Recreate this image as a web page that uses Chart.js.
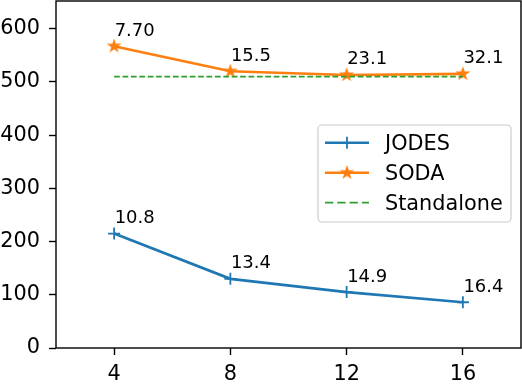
<!DOCTYPE html>
<html><head><meta charset="utf-8">
<script src="https://cdn.jsdelivr.net/npm/chart.js@4.4.1/dist/chart.umd.min.js"></script>
<style>html,body{margin:0;padding:0;background:#fff}canvas{display:block}</style>
</head><body>
<canvas id="c" width="522" height="384"></canvas>
<script>
const nodes = [4, 8, 12, 16];
const jodesValues = [215, 130, 105, 86];
const sodaValues = [567, 520, 513, 515];
const standaloneValues = [510, 510, 510, 510];
const jodesLabels = ['10.8', '13.4', '14.9', '16.4'];
const sodaLabels = ['7.70', '15.5', '23.1', '32.1'];
const seriesNames = ['JODES', 'SODA', 'Standalone'];
const xTicks = [4, 8, 12, 16];
const yTicks = [0, 100, 200, 300, 400, 500, 600];

const FONT = 'DejaVu Sans';
const BLUE = '#1f77b4', ORANGE = '#ff7f0e', GREEN = '#2ca02c';

function starCanvas(r, color) {
  const s = 18;
  const c = document.createElement('canvas');
  c.width = s; c.height = s;
  const g = c.getContext('2d');
  g.fillStyle = color; g.strokeStyle = color; g.lineWidth = 1.5; g.lineJoin = 'miter';
  g.beginPath();
  for (let i = 0; i < 10; i++) {
    const rr = i % 2 ? r * 0.382 : r;
    const a = -Math.PI / 2 + i * Math.PI / 5;
    const px = s / 2 + rr * Math.cos(a), py = s / 2 + rr * Math.sin(a);
    if (i === 0) g.moveTo(px, py); else g.lineTo(px, py);
  }
  g.closePath(); g.fill(); g.stroke();
  return c;
}
const star = starCanvas(5.4, ORANGE);

const pts = (vals) => nodes.map((x, i) => ({ x: x, y: vals[i] }));

const framePlugin = {
  id: 'frame',
  afterDatasetsDraw(chart) {
    const { ctx, chartArea: a } = chart;
    ctx.save();
    ctx.strokeStyle = '#000'; ctx.lineWidth = 1.4;
    ctx.strokeRect(a.left, a.top, a.right - a.left, a.bottom - a.top);
    ctx.restore();
  }
};

const annotPlugin = {
  id: 'annot',
  afterDatasetsDraw(chart) {
    const { ctx } = chart;
    ctx.save();
    ctx.font = '18px "' + FONT + '"';
    ctx.fillStyle = '#000';
    ctx.textAlign = 'left'; ctx.textBaseline = 'alphabetic';
    [[0, jodesLabels], [1, sodaLabels]].forEach(([di, labels]) => {
      const meta = chart.getDatasetMeta(di);
      meta.data.forEach((p, i) => ctx.fillText(labels[i], p.x + 0.5, p.y - 10.5));
    });
    ctx.restore();
  }
};

const legendPlugin = {
  id: 'customLegend',
  afterDraw(chart) {
    const { ctx, chartArea: a } = chart;
    const bw = 193, bh = 97;
    const bx = a.right - 10 - bw, by = 125;
    ctx.save();
    const r = 4;
    ctx.beginPath();
    ctx.moveTo(bx + r, by); ctx.lineTo(bx + bw - r, by); ctx.arcTo(bx + bw, by, bx + bw, by + r, r);
    ctx.lineTo(bx + bw, by + bh - r); ctx.arcTo(bx + bw, by + bh, bx + bw - r, by + bh, r);
    ctx.lineTo(bx + r, by + bh); ctx.arcTo(bx, by + bh, bx, by + bh - r, r);
    ctx.lineTo(bx, by + r); ctx.arcTo(bx, by, bx + r, by, r); ctx.closePath();
    ctx.fillStyle = 'rgba(255,255,255,0.8)'; ctx.fill();
    ctx.strokeStyle = '#cccccc'; ctx.lineWidth = 1.2; ctx.stroke();
    const hx0 = bx + 7, hx1 = bx + 51, hc = (hx0 + hx1) / 2, tx = bx + 67;
    const rows = [by + 17.7, by + 47.7, by + 77.7];
    ctx.strokeStyle = BLUE; ctx.lineWidth = 2.6;
    ctx.beginPath(); ctx.moveTo(hx0, rows[0]); ctx.lineTo(hx1, rows[0]); ctx.stroke();
    ctx.lineWidth = 1.8;
    ctx.beginPath(); ctx.moveTo(hc, rows[0] - 6); ctx.lineTo(hc, rows[0] + 6); ctx.stroke();
    ctx.strokeStyle = ORANGE; ctx.lineWidth = 2.6;
    ctx.beginPath(); ctx.moveTo(hx0, rows[1]); ctx.lineTo(hx1, rows[1]); ctx.stroke();
    ctx.drawImage(star, hc - star.width / 2, rows[1] - star.height / 2);
    ctx.strokeStyle = GREEN; ctx.lineWidth = 1.74; ctx.setLineDash([8.3, 4]);
    ctx.beginPath(); ctx.moveTo(hx0, rows[2]); ctx.lineTo(hx1, rows[2]); ctx.stroke();
    ctx.setLineDash([]);
    ctx.fillStyle = '#000'; ctx.font = '20.8px "' + FONT + '"';
    ctx.textAlign = 'left'; ctx.textBaseline = 'alphabetic';
    seriesNames.forEach((n, i) => ctx.fillText(n, tx, rows[i] + 7.6));
    ctx.restore();
  }
};

new Chart(document.getElementById('c'), {
  type: 'line',
  data: {
    datasets: [
      { label: seriesNames[0], data: pts(jodesValues), borderColor: BLUE, backgroundColor: BLUE,
        borderWidth: 2.7, pointStyle: 'cross', pointRadius: 6, pointBorderWidth: 1.8,
        pointBorderColor: BLUE, tension: 0, order: 2 },
      { label: seriesNames[1], data: pts(sodaValues), borderColor: ORANGE, backgroundColor: ORANGE,
        borderWidth: 2.7, pointStyle: star, pointRadius: 6, tension: 0, order: 1 },
      { label: seriesNames[2], data: pts(standaloneValues), borderColor: GREEN,
        borderWidth: 1.74, borderDash: [5.7, 2.7], pointRadius: 0, tension: 0, order: 0 }
    ]
  },
  options: {
    responsive: false, animation: false, devicePixelRatio: 1,
    layout: { autoPadding: false, padding: { top: 1, right: 1, left: 0, bottom: 0 } },
    plugins: { legend: { display: false }, tooltip: { enabled: false } },
    scales: {
      x: {
        type: 'linear', min: 2, max: 18,
        afterBuildTicks: (s) => { s.ticks = xTicks.map(v => ({ value: v })); },
        afterFit: (s) => { s.height = 36; s.paddingLeft = 0; s.paddingRight = 0; },
        grid: { drawOnChartArea: false, drawTicks: true, tickLength: 7, tickColor: '#000', tickWidth: 1.4 },
        border: { display: false },
        ticks: { font: { family: FONT, size: 20.8 }, color: '#000', padding: 7, maxRotation: 0, autoSkip: false }
      },
      y: {
        min: 0, max: 652,
        afterBuildTicks: (s) => { s.ticks = yTicks.map(v => ({ value: v })); },
        afterFit: (s) => { s.width = 56; s.paddingTop = 0; s.paddingBottom = 0; },
        grid: { drawOnChartArea: false, drawTicks: true, tickLength: 7, tickColor: '#000', tickWidth: 1.4 },
        border: { display: false },
        ticks: { font: { family: FONT, size: 20.8 }, color: '#000', padding: 9, autoSkip: false }
      }
    }
  },
  plugins: [framePlugin, annotPlugin, legendPlugin]
});
</script>
</body></html>
